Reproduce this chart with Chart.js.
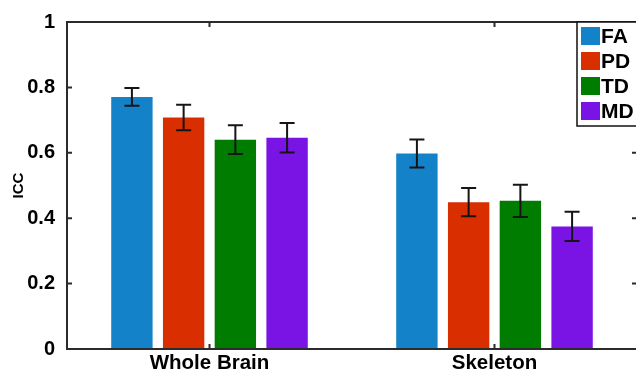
<!DOCTYPE html>
<html>
<head>
<meta charset="utf-8">
<script src="https://cdn.jsdelivr.net/npm/chart.js@4.4.1/dist/chart.umd.min.js"></script>
<style>
html, body { margin: 0; padding: 0; background: #fff; overflow: hidden; }
#wrap { width: 638px; height: 373px; }
</style>
</head>
<body>
<div id="wrap"><canvas id="icc_chart"></canvas></div>
<script>
// ICC per measure, whole brain vs skeleton
const categories = ['Whole Brain', 'Skeleton'];
const measures = ['FA', 'PD', 'TD', 'MD'];
const colors = ['#1482c8', '#d92e00', '#007c00', '#7a14e4'];

const faValues = [0.771, 0.598];
const pdValues = [0.708, 0.449];
const tdValues = [0.640, 0.453];
const mdValues = [0.646, 0.375];

const faErrors = [0.027, 0.043];
const pdErrors = [0.039, 0.043];
const tdErrors = [0.044, 0.049];
const mdErrors = [0.045, 0.045];

const yTicks = [0, 0.2, 0.4, 0.6, 0.8, 1];
const yTickLabels = ['0', '0.2', '0.4', '0.6', '0.8', '1'];
const xTicks = [1, 2];

const seriesValues = [faValues, pdValues, tdValues, mdValues];
const seriesErrors = [faErrors, pdErrors, tdErrors, mdErrors];
const FONT = 'Liberation Sans';
const AXIS_COLOR = '#2b2b2b';

// error bars drawn on top of the bars
const errorBars = {
    id: 'errorBars',
    afterDatasetsDraw(chart) {
        const ctx = chart.ctx;
        const yScale = chart.scales.y;
        ctx.save();
        ctx.strokeStyle = '#151515';
        ctx.lineWidth = 2;
        seriesErrors.forEach((errs, d) => {
            const meta = chart.getDatasetMeta(d);
            meta.data.forEach((bar, i) => {
                const v = seriesValues[d][i];
                const yTop = yScale.getPixelForValue(v + errs[i]);
                const yBot = yScale.getPixelForValue(v - errs[i]);
                const half = 7.5;
                ctx.beginPath();
                ctx.moveTo(bar.x, yTop);
                ctx.lineTo(bar.x, yBot);
                ctx.moveTo(bar.x - half, yTop);
                ctx.lineTo(bar.x + half, yTop);
                ctx.moveTo(bar.x - half, yBot);
                ctx.lineTo(bar.x + half, yBot);
                ctx.stroke();
            });
        });
        ctx.restore();
    }
};

// matlab style box with inward ticks, plus the legend box
const frameAndLegend = {
    id: 'frameAndLegend',
    afterDraw(chart) {
        const ctx = chart.ctx;
        const a = chart.chartArea;
        const xs = chart.scales.x;
        const ys = chart.scales.y;
        ctx.save();
        ctx.strokeStyle = AXIS_COLOR;
        ctx.lineWidth = 2;
        ctx.strokeRect(a.left, a.top, a.right - a.left, a.bottom - a.top);
        ctx.beginPath();
        yTicks.forEach(t => {
            const y = ys.getPixelForValue(t);
            ctx.moveTo(a.left, y);
            ctx.lineTo(a.left + 5, y);
            ctx.moveTo(a.right, y);
            ctx.lineTo(a.right - 5, y);
        });
        xTicks.forEach(t => {
            const x = xs.getPixelForValue(t);
            ctx.moveTo(x, a.bottom);
            ctx.lineTo(x, a.bottom - 5);
            ctx.moveTo(x, a.top);
            ctx.lineTo(x, a.top + 5);
        });
        ctx.stroke();

        // legend
        const boxLeft = a.right - 60;
        const boxTop = a.top;
        const pitch = 25;
        ctx.fillStyle = '#fff';
        ctx.fillRect(boxLeft, boxTop, a.right - boxLeft, 104);
        ctx.strokeStyle = '#111';
        ctx.lineWidth = 1.5;
        ctx.strokeRect(boxLeft, boxTop, a.right - boxLeft, 104);
        ctx.font = 'bold 21px "' + FONT + '"';
        ctx.textBaseline = 'middle';
        ctx.textAlign = 'left';
        measures.forEach((m, k) => {
            const sy = boxTop + 5 + k * pitch;
            ctx.fillStyle = colors[k];
            ctx.fillRect(boxLeft + 4, sy, 19, 18);
            ctx.fillStyle = '#000';
            ctx.fillText(m, boxLeft + 24, sy + 10);
        });
        ctx.restore();
    }
};

function showIcc() {
    const ctx = document.getElementById('icc_chart');
    new Chart(ctx, {
        type: 'bar',
        data: {
            datasets: measures.map((m, d) => ({
                label: m,
                data: seriesValues[d].map((v, i) => ({ x: xTicks[i], y: v })),
                backgroundColor: colors[d],
                borderWidth: 0,
                categoryPercentage: 0.726,
                barPercentage: 0.8
            }))
        },
        options: {
            responsive: true,
            maintainAspectRatio: false,
            animation: false,
            layout: {
                padding: { top: 22, left: 0, right: 1, bottom: 0 }
            },
            plugins: {
                legend: { display: false },
                tooltip: { enabled: false }
            },
            scales: {
                x: {
                    type: 'linear',
                    min: 0.5,
                    max: 2.5,
                    offset: false,
                    grid: { display: false },
                    border: { display: false },
                    afterBuildTicks: scale => {
                        scale.ticks = xTicks.map(v => ({ value: v }));
                    },
                    afterFit: scale => { scale.height = 24; },
                    ticks: {
                        padding: -6,
                        color: '#000',
                        font: { family: FONT, size: 20.5, weight: 'bold' },
                        callback: (v, i) => categories[i]
                    }
                },
                y: {
                    min: 0,
                    max: 1,
                    grid: { display: false },
                    border: { display: false },
                    afterBuildTicks: scale => {
                        scale.ticks = yTicks.map(v => ({ value: v }));
                    },
                    afterFit: scale => { scale.width = 67; },
                    ticks: {
                        padding: 4,
                        color: '#000',
                        font: { family: FONT, size: 20, weight: 'bold' },
                        callback: (v, i) => yTickLabels[i]
                    },
                    title: {
                        display: true,
                        text: 'ICC',
                        color: '#000',
                        padding: { top: 10, bottom: 0 },
                        font: { family: FONT, size: 15, weight: 'bold' }
                    }
                }
            }
        },
        plugins: [errorBars, frameAndLegend]
    });
}

showIcc();
</script>
</body>
</html>
